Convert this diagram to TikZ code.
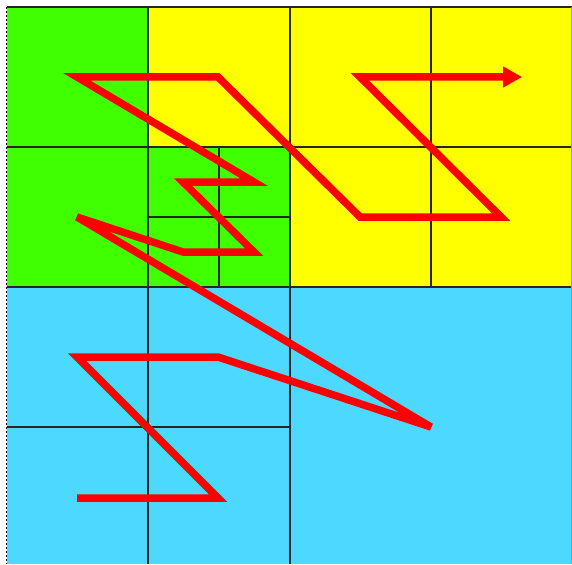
\documentclass[tikz,border=0pt]{standalone}
\usepackage{tikz}
\usetikzlibrary{arrows.meta}
\definecolor{zgreen}{RGB}{64,255,0}
\definecolor{zyellow}{RGB}{255,255,0}
\definecolor{zblue}{RGB}{77,216,255}

\begin{document}
\begin{tikzpicture}[x=1pt, y=-1pt,
        grid/.style={draw=black!85, line width=1.6pt},
        zcurve/.style={draw=red, line width=7.5pt, line join=miter, miter limit=4, -{Triangle[length=19pt, width=20pt]}}]

        \useasboundingbox (0,0) rectangle (572,564);

        % Quadrant fills
        \fill[zgreen] (7,7) rectangle (290,287);
        \fill[zyellow] (148,7) rectangle (290,147);
        \fill[zyellow] (290,7) rectangle (572,287);
        \fill[zblue] (7,287) rectangle (572,564);

        % Cell borders
        \draw[grid] (7,7) -- (572,7);
        \draw[grid] (7,147) -- (572,147);
        \draw[grid] (7,287) -- (572,287);
        \draw[grid] (7,427) -- (290,427);
        \draw[grid] (148,217) -- (290,217);
        \draw[grid] (148,7) -- (148,564);
        \draw[grid] (219,147) -- (219,287);
        \draw[grid] (290,7) -- (290,564);
        \draw[grid] (431,7) -- (431,287);
        \draw[black, line width=1pt, dashed, dash pattern=on 2pt off 2pt] (6,7) -- (6,564);
        \draw[black!40, line width=0.8pt] (571.5,7) -- (571.5,564);

        % Curve points
        \coordinate (p1) at (77,498);
        \coordinate (p2) at (218,498);
        \coordinate (p3) at (77,357);
        \coordinate (p4) at (218,357);
        \coordinate (p5) at (431,427);
        \coordinate (p6) at (77,217);
        \coordinate (p7) at (183,252);
        \coordinate (p8) at (254,252);
        \coordinate (p9) at (183,182);
        \coordinate (p10) at (254,182);
        \coordinate (p11) at (77,77);
        \coordinate (p12) at (218,77);
        \coordinate (p13) at (360,217);
        \coordinate (p14) at (501,217);
        \coordinate (p15) at (360,77);
        \coordinate (p16) at (522,77);

        % Z-order curve
        \draw[zcurve] (p1) -- (p2) -- (p3) -- (p4) -- (p5) -- (p6) -- (p7) -- (p8)
            -- (p9) -- (p10) -- (p11) -- (p12) -- (p13) -- (p14) -- (p15) -- (p16);
    \end{tikzpicture}
\end{document}
